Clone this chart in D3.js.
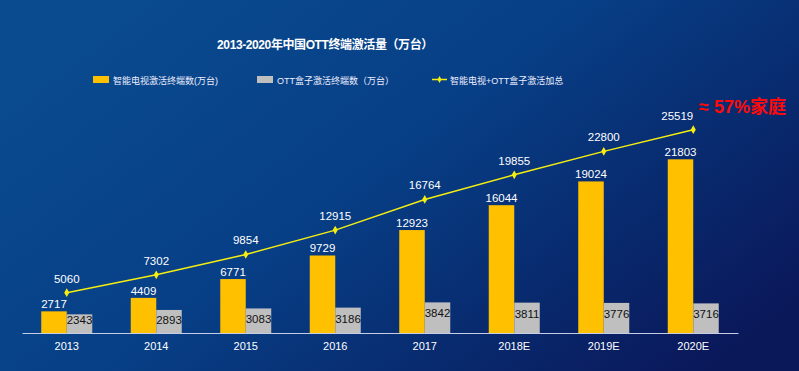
<!DOCTYPE html>
<html>
<head>
<meta charset="utf-8">
<script src="https://cdn.jsdelivr.net/npm/d3@7"></script>
<style>
  body { margin: 0; background: #0a3a7e; }
  svg { display: block; font-family: "Liberation Sans", "Noto Sans CJK SC", sans-serif; }
</style>
</head>
<body>
<svg id="chart"></svg>
<script>
// chart values
var years = ["2013", "2014", "2015", "2016", "2017", "2018E", "2019E", "2020E"];
var tvValues = [2717, 4409, 6771, 9729, 12923, 16044, 19024, 21803];
var boxValues = [2343, 2893, 3083, 3186, 3842, 3811, 3776, 3716];
var totalValues = [5060, 7302, 9854, 12915, 16764, 19855, 22800, 25519];
var seriesNames = ["智能电视激活终端数(万台)", "OTT盒子激活终端数（万台）", "智能电视+OTT盒子激活加总"];
var titleText = "2013-2020年中国OTT终端激活量（万台）";
var noteText = "≈ 57%家庭";

var w = 799, h = 371;
var gold = "#ffc000", grey = "#bfbfbf", yellow = "#f5ee10";

var svg = d3.select("#chart").attr("width", w).attr("height", h);

// background gradient
var defs = svg.append("defs");
var grad = defs.append("linearGradient").attr("id", "bg")
    .attr("x1", "0%").attr("y1", "20%").attr("x2", "100%").attr("y2", "80%");
grad.append("stop").attr("offset", "0%").attr("stop-color", "#0a4b8f");
grad.append("stop").attr("offset", "45%").attr("stop-color", "#073f86");
grad.append("stop").attr("offset", "100%").attr("stop-color", "#0a185a");
svg.append("rect").attr("width", w).attr("height", h).attr("fill", "url(#bg)");

// scales
var x = d3.scaleBand().domain(years).range([22, 738]);
var y = d3.scaleLinear().domain([0, 30000]).range([333, 94]);
var barW = 25.5;
var cx = function (d) { return x(d) + x.bandwidth() / 2; };

// title
svg.append("text").attr("x", 325).attr("y", 49)
    .attr("text-anchor", "middle").attr("fill", "#fff")
    .style("font-size", "12px").style("font-weight", "bold").style("letter-spacing", "-0.4px")
    .text(titleText);

// legend
var lg = svg.append("g").style("font-size", "9px").attr("fill", "#eef");
lg.append("rect").attr("x", 93).attr("y", 76).attr("width", 16).attr("height", 7).attr("fill", gold);
lg.append("text").attr("x", 113).attr("y", 83.5).text(seriesNames[0]);
lg.append("rect").attr("x", 257).attr("y", 76).attr("width", 16).attr("height", 7).attr("fill", grey);
lg.append("text").attr("x", 277).attr("y", 83.5).text(seriesNames[1]);
lg.append("line").attr("x1", 432).attr("x2", 447).attr("y1", 79.5).attr("y2", 79.5)
    .attr("stroke", yellow).attr("stroke-width", 1.5);
lg.append("path").attr("d", d3.symbol(d3.symbolDiamond, 14)()).attr("transform", "translate(439.5,79.5)").attr("fill", yellow);
lg.append("text").attr("x", 450).attr("y", 83.5).text(seriesNames[2]);

// axis
var xAxis = svg.append("g").attr("transform", "translate(0,333)")
    .call(d3.axisBottom(x).tickSize(0).tickPadding(9));
xAxis.select(".domain").attr("stroke", "#c6cde6").attr("stroke-width", 1.2);
xAxis.selectAll("text").attr("fill", "#fff").style("font-size", "11px")
    .style("font-family", "Liberation Sans, sans-serif");

// bars
var groups = svg.selectAll(".grp").data(years).enter().append("g").attr("class", "grp");
groups.append("rect")
    .attr("x", function (d) { return cx(d) - barW; })
    .attr("width", barW)
    .attr("y", function (d, i) { return y(tvValues[i]); })
    .attr("height", function (d, i) { return y(0) - y(tvValues[i]); })
    .attr("fill", gold);
groups.append("rect")
    .attr("x", function (d) { return cx(d); })
    .attr("width", barW)
    .attr("y", function (d, i) { return y(boxValues[i]); })
    .attr("height", function (d, i) { return y(0) - y(boxValues[i]); })
    .attr("fill", grey);

// bar labels
groups.append("text")
    .attr("x", function (d) { return cx(d) - barW / 2; })
    .attr("y", function (d, i) { return y(tvValues[i]) - 3; })
    .attr("text-anchor", "middle").attr("fill", "#fff").style("font-size", "11.5px")
    .text(function (d, i) { return tvValues[i]; });
groups.append("text")
    .attr("x", function (d) { return cx(d) + barW / 2; })
    .attr("y", function (d, i) { return Math.min(y(boxValues[i]) + 15, y(0) - 9); })
    .attr("text-anchor", "middle").attr("fill", "#111").style("font-size", "11.5px")
    .text(function (d, i) { return boxValues[i]; });

// total line
var line = d3.line()
    .x(function (d, i) { return cx(years[i]); })
    .y(function (d) { return y(d); });
svg.append("path").datum(totalValues).attr("d", line)
    .attr("fill", "none").attr("stroke", yellow).attr("stroke-width", 1.5);
svg.selectAll(".pt").data(totalValues).enter().append("path")
    .attr("d", d3.symbol(d3.symbolDiamond, 22)())
    .attr("transform", function (d, i) { return "translate(" + cx(years[i]) + "," + y(d) + ")"; })
    .attr("fill", yellow);
svg.selectAll(".tl").data(totalValues).enter().append("text")
    .attr("x", function (d, i) { return cx(years[i]); })
    .attr("y", function (d) { return y(d) - 10; })
    .attr("text-anchor", function (d, i) { return i === totalValues.length - 1 ? "end" : "middle"; })
    .attr("fill", "#fff").style("font-size", "11.5px")
    .text(function (d) { return d; });

// annotation
svg.append("text").attr("x", 699).attr("y", 113)
    .attr("fill", "#ff0a0a").style("font-size", "18px").style("font-weight", "bold")
    .text(noteText);
</script>
</body>
</html>
